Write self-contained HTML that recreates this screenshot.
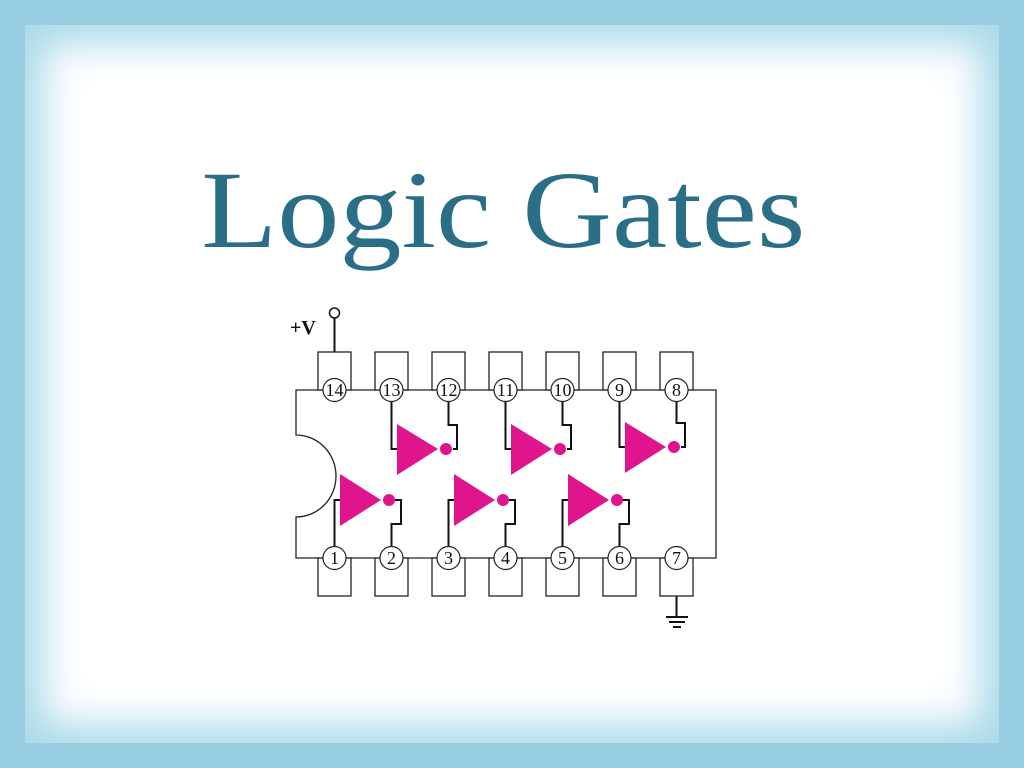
<!DOCTYPE html>
<html><head><style>
html,body{margin:0;padding:0}
body{width:1024px;height:768px;position:relative;overflow:hidden;background:#96cde0}
.g1{position:absolute;left:25px;top:25px;right:25px;bottom:25px;background:#fff;box-shadow:inset 0 0 40px 18px #a9d8e8}
.t{position:absolute;left:-10px;width:1024px;top:145px;text-align:center;font-family:"Liberation Serif",serif;font-size:110px;line-height:130px;color:#2a6e87;transform:scaleX(1.13);transform-origin:502px 0}
svg{position:absolute;left:0;top:0}
</style></head><body>
<div class="g1"></div>
<div class="t">Logic Gates</div>
<svg width="1024" height="768" viewBox="0 0 1024 768">
<g fill="#fff" stroke="#222" stroke-width="1.3">
<path d="M296 390 H716 V558 H296 V517 A40 41 0 0 0 296 435 Z"/>
<rect x="318" y="352" width="33" height="38"/><rect x="375" y="352" width="33" height="38"/><rect x="432" y="352" width="33" height="38"/><rect x="489" y="352" width="33" height="38"/><rect x="546" y="352" width="33" height="38"/><rect x="603" y="352" width="33" height="38"/><rect x="660" y="352" width="33" height="38"/>
<rect x="318" y="558" width="33" height="38"/><rect x="375" y="558" width="33" height="38"/><rect x="432" y="558" width="33" height="38"/><rect x="489" y="558" width="33" height="38"/><rect x="546" y="558" width="33" height="38"/><rect x="603" y="558" width="33" height="38"/><rect x="660" y="558" width="33" height="38"/>
</g>
<g fill="none" stroke="#111" stroke-width="2">
<path d="M334.5 352 V318"/>
<path d="M676.5 596 V617 M666 617 H688 M669 622 H685 M673 627 H681"/>
<path d="M391.5 390 V449 H397 M453 449 H457 V425 H448.5 V390"/>
<path d="M505.5 390 V449 H511 M567 449 H571 V425 H562.5 V390"/>
<path d="M619.5 390 V447 H625 M681 447 H685 V423 H676.5 V390"/>
<path d="M334.5 558 V500 H340 M395 500 H401 V524 H391.5 V558"/>
<path d="M448.5 558 V500 H454 M509 500 H515 V524 H505.5 V558"/>
<path d="M562.5 558 V500 H568 M623 500 H629 V524 H619.5 V558"/>
</g>
<circle cx="334.5" cy="313" r="5" fill="#fff" stroke="#111" stroke-width="1.5"/>
<text x="290" y="334" font-family="Liberation Serif,serif" font-size="20" font-weight="bold" fill="#111">+V</text>
<g fill="#e0158e">
<path d="M397 424 L438 449 L397 475Z"/><circle cx="446" cy="449" r="6"/>
<path d="M511 424 L552 449 L511 475Z"/><circle cx="560" cy="449" r="6"/>
<path d="M625 422 L666 447 L625 473Z"/><circle cx="674" cy="447" r="6"/>
<path d="M340 474 L381 500 L340 526Z"/><circle cx="389" cy="500" r="6"/>
<path d="M454 474 L495 500 L454 526Z"/><circle cx="503" cy="500" r="6"/>
<path d="M568 474 L609 500 L568 526Z"/><circle cx="617" cy="500" r="6"/>
</g>
<g fill="#fff" stroke="#222" stroke-width="1.2">
<circle cx="334.5" cy="390" r="11.5"/><circle cx="391.5" cy="390" r="11.5"/><circle cx="448.5" cy="390" r="11.5"/><circle cx="505.5" cy="390" r="11.5"/><circle cx="562.5" cy="390" r="11.5"/><circle cx="619.5" cy="390" r="11.5"/><circle cx="676.5" cy="390" r="11.5"/>
<circle cx="334.5" cy="558" r="11.5"/><circle cx="391.5" cy="558" r="11.5"/><circle cx="448.5" cy="558" r="11.5"/><circle cx="505.5" cy="558" r="11.5"/><circle cx="562.5" cy="558" r="11.5"/><circle cx="619.5" cy="558" r="11.5"/><circle cx="676.5" cy="558" r="11.5"/>
</g>
<g font-family="Liberation Serif,serif" font-size="18" fill="#111" text-anchor="middle">
<text x="334.5" y="396">14</text><text x="391.5" y="396">13</text><text x="448.5" y="396">12</text><text x="505.5" y="396">11</text><text x="562.5" y="396">10</text><text x="619.5" y="396">9</text><text x="676.5" y="396">8</text>
<text x="334.5" y="564">1</text><text x="391.5" y="564">2</text><text x="448.5" y="564">3</text><text x="505.5" y="564">4</text><text x="562.5" y="564">5</text><text x="619.5" y="564">6</text><text x="676.5" y="564">7</text>
</g>
</svg>
</body></html>
